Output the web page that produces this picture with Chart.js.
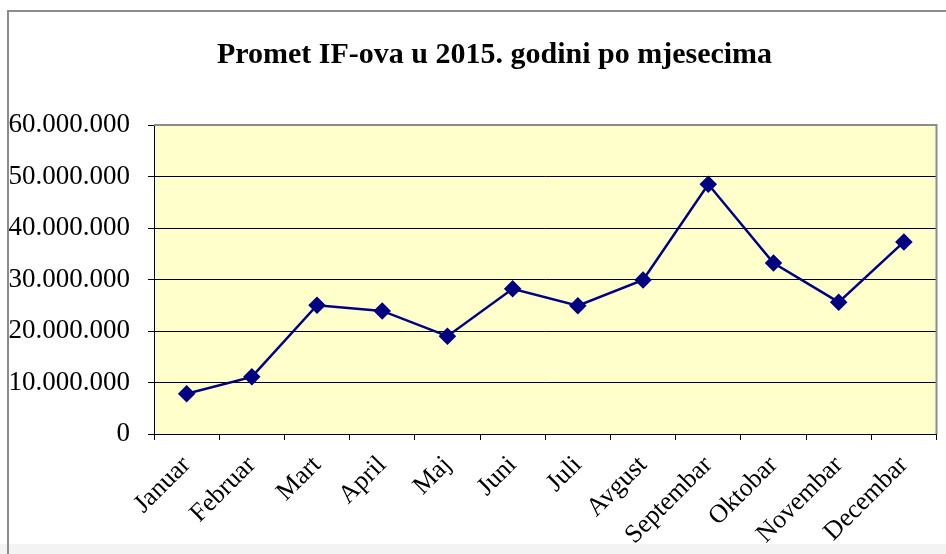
<!DOCTYPE html>
<html>
<head>
<meta charset="utf-8">
<script src="https://cdn.jsdelivr.net/npm/chart.js@4/dist/chart.umd.min.js"></script>
<style>
  html,body{margin:0;padding:0;background:#fff;}
  #wrap{position:relative;width:946px;height:554px;}
</style>
</head>
<body>
<div id="wrap"><canvas id="chartPromet" width="946" height="554"></canvas></div>
<script>
const MONTHS = ["Januar","Februar","Mart","April","Maj","Juni","Juli","Avgust","Septembar","Oktobar","Novembar","Decembar"];
const PROMET = [7800000,11100000,25000000,23900000,19000000,28200000,24900000,29900000,48500000,33200000,25600000,37300000];
const Y_TICKS = [0,10000000,20000000,30000000,40000000,50000000,60000000];

const C = { navy:"#000080", plotBg:"#FFFFCC", frame:"#8C8C8C", ink:"#000000" };
const SERIF = "'Liberation Serif','Times New Roman',serif";

const fmtDots = v => String(v).replace(/\B(?=(\d{3})+(?!\d))/g, ".");

const framePlugin = {
  id:"frame",
  afterLayout(chart){
    // title is centred a bit right of the canvas middle in the original
    const t = chart.titleBlock;
    if(t){ t.left = 51; t.right = 938; t.width = t.right - t.left; }
  },
  beforeDraw(chart){
    const {ctx, chartArea:a} = chart;
    ctx.save();
    // outer frame
    ctx.fillStyle = "#f3f3f3";
    ctx.fillRect(0, 544, 946, 10);
    ctx.fillStyle = "#fff";
    ctx.fillRect(9, 11, 937, 533);
    ctx.strokeStyle = C.frame; ctx.lineWidth = 2;
    ctx.beginPath(); ctx.moveTo(8, 554); ctx.lineTo(8, 11); ctx.lineTo(946, 11); ctx.stroke();
    // plot area
    ctx.fillStyle = C.plotBg;
    ctx.fillRect(a.left, a.top, a.right - a.left, a.bottom - a.top);
    ctx.restore();
  },
  afterDatasetsDraw(chart){
    const {ctx, chartArea:a} = chart;
    ctx.save();
    ctx.strokeStyle = C.frame; ctx.lineWidth = 2;
    ctx.beginPath(); ctx.moveTo(a.left, a.top); ctx.lineTo(a.right, a.top); ctx.lineTo(a.right, a.bottom); ctx.stroke();
    ctx.restore();
  }
};

new Chart(document.getElementById("chartPromet"), {
  type:"line",
  data:{ labels:MONTHS, datasets:[{
    data:PROMET, borderColor:C.navy, backgroundColor:C.navy, borderWidth:2.5,
    pointStyle:"rectRot", pointRadius:7, pointHoverRadius:7, tension:0, fill:false
  }]},
  options:{
    responsive:false, animation:false,
    layout:{ padding:{ left:0, right:8, top:0, bottom:0 } },
    plugins:{
      legend:{ display:false }, tooltip:{ enabled:false },
      title:{ display:true, text:"Promet IF-ova u 2015. godini po mjesecima", color:C.ink,
        font:{ family:SERIF, size:30, weight:"bold" }, padding:{ top:37, bottom:52 } }
    },
    scales:{
      x:{
        offset:true,
        grid:{ offset:true, drawOnChartArea:false, color:"#000", tickLength:6 },
        border:{ color:"#000", width:1 },
        ticks:{ color:C.ink, font:{ family:SERIF, size:26 }, minRotation:45, maxRotation:45, padding:10 },
        afterFit(s){ s.height = 120; }
      },
      y:{
        min:0, max:60000000,
        afterBuildTicks(s){ s.ticks = Y_TICKS.map(v=>({value:v})); },
        grid:{ color:"#000", tickLength:6 },
        border:{ color:"#000", width:1 },
        ticks:{ color:C.ink, font:{ family:SERIF, size:27 }, padding:18, callback:v=>fmtDots(v) },
        afterFit(s){ s.width = 154; }
      }
    }
  },
  plugins:[framePlugin]
});
</script>
</body>
</html>
